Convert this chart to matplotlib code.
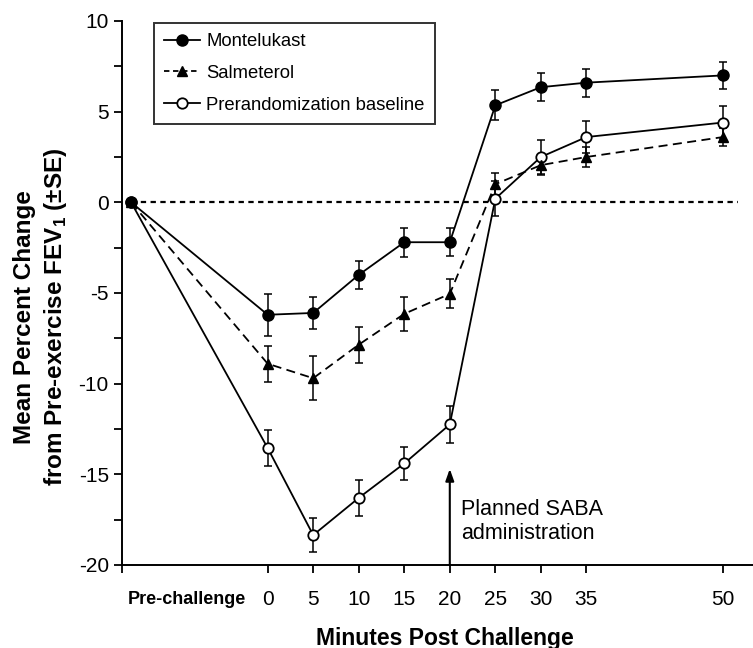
import matplotlib
matplotlib.use("Agg")
import matplotlib.pyplot as plt
from matplotlib.ticker import MultipleLocator
from matplotlib.lines import Line2D

plt.rcParams['font.family'] = ['Liberation Sans', 'DejaVu Sans']
plt.rcParams['mathtext.fontset'] = 'custom'
plt.rcParams['mathtext.rm'] = 'Liberation Sans'
plt.rcParams['mathtext.bf'] = 'Liberation Sans:bold'
plt.rcParams['axes.unicode_minus'] = False

# ---- data ----
time_labels = ['Pre-challenge', '0', '5', '10', '15', '20', '25', '30', '35', '50']
time_pos = [-15, 0, 5, 10, 15, 20, 25, 30, 35, 50]   # "Pre-challenge" drawn at -15

montelukast = [0, -6.2, -6.1, -4.0, -2.2, -2.2, 5.35, 6.35, 6.6, 7.0]
montelukast_se = [0, 1.15, 0.9, 0.77, 0.8, 0.77, 0.83, 0.78, 0.77, 0.74]

salmeterol = [0, -8.9, -9.7, -7.85, -6.15, -5.05, 1.0, 2.05, 2.5, 3.6]
salmeterol_se = [0, 1.0, 1.2, 1.0, 0.92, 0.8, 0.6, 0.57, 0.55, 0.5]

baseline = [0, -13.55, -18.35, -16.3, -14.4, -12.25, 0.2, 2.5, 3.6, 4.4]
baseline_se = [0, 1.0, 0.95, 1.0, 0.9, 1.0, 0.95, 0.95, 0.9, 0.9]

series_names = ['Montelukast', 'Salmeterol', 'Prerandomization baseline']

# ---- figure ----
W, H = 753, 648
fig = plt.figure(figsize=(W / 100, H / 100), dpi=100)
ax = fig.add_axes([122 / W, 1 - 565 / H, (W - 122) / W, (565 - 21) / H])

ax.set_xlim(-16, 53.3)
ax.set_ylim(-20, 10)

lw = 1.3
# zero reference line
ax.plot([-15, 51.6], [0, 0], color='black', lw=1.6, linestyle=(0, (2.4, 2.0)), zorder=1)

ekw = dict(ecolor='black', elinewidth=1.1, capsize=3.2, capthick=1.1, linestyle='none', zorder=2)

# Prerandomization baseline
ax.errorbar(time_pos, baseline, yerr=baseline_se, fmt='none', **ekw)
ax.plot(time_pos, baseline, color='black', lw=lw, marker='o', markersize=7.5,
        markerfacecolor='white', markeredgecolor='black', markeredgewidth=1.3, zorder=3)
# Salmeterol
ax.errorbar(time_pos, salmeterol, yerr=salmeterol_se, fmt='none', **ekw)
ax.plot(time_pos, salmeterol, color='black', lw=lw, linestyle=(0, (5, 3)), marker='^',
        markersize=7.5, markerfacecolor='black', markeredgecolor='black', zorder=4)
# Montelukast
ax.errorbar(time_pos, montelukast, yerr=montelukast_se, fmt='none', **ekw)
ax.plot(time_pos, montelukast, color='black', lw=lw, marker='o', markersize=8,
        markerfacecolor='black', markeredgecolor='black', zorder=5)

# arrow for planned SABA
ax.annotate('', xy=(20, -14.7), xytext=(20, -20),
            arrowprops=dict(arrowstyle='-|>,head_length=0.7,head_width=0.25',
                            color='black', lw=1.5, shrinkA=0, shrinkB=0))
ax.text(21.2, -17.6, 'Planned SABA\nadministration', fontsize=15.5, ha='left', va='center',
        linespacing=1.22)

# axes styling
for s in ['top', 'right']:
    ax.spines[s].set_visible(False)
for s in ['left', 'bottom']:
    ax.spines[s].set_linewidth(1.4)

ax.yaxis.set_major_locator(MultipleLocator(5))
ax.yaxis.set_minor_locator(MultipleLocator(2.5))
ax.tick_params(axis='y', which='major', direction='out', length=6, width=1.3,
               labelsize=15, pad=3.5)
ax.tick_params(axis='y', which='minor', direction='out', length=6, width=1.3)

ax.set_xticks([-16] + time_pos[1:])
ax.set_xticklabels([''] + time_labels[1:])
ax.tick_params(axis='x', which='major', direction='out', length=6, width=1.3,
               labelsize=15, pad=12)

ax.annotate(time_labels[0], xy=(-8.9, 0), xycoords=('data', 'axes fraction'),
            xytext=(0, -18.5), textcoords='offset points', ha='center', va='top',
            fontsize=13, fontweight='bold')

fig.text(445 / W, 1 - 638 / H, 'Minutes Post Challenge', ha='center', va='center',
         fontsize=16.5, fontweight='bold')
fig.text(41 / W, 1 - 317 / H,
         'Mean Percent Change\nfrom Pre-exercise FEV$_\\mathbf{1}$ (±SE)',
         rotation=90, ha='center', va='center', fontsize=17.5, fontweight='bold',
         multialignment='center', linespacing=1.3)

# legend
handles = [
    Line2D([], [], color='black', lw=lw, marker='o', markersize=8,
           markerfacecolor='black'),
    Line2D([], [], color='black', lw=lw, linestyle=(0, (3, 2)), marker='^', markersize=7.5,
           markerfacecolor='black'),
    Line2D([], [], color='black', lw=lw, marker='o', markersize=7.5,
           markerfacecolor='white', markeredgewidth=1.3),
]
leg = ax.legend(handles, series_names, loc='upper left',
                bbox_to_anchor=(154 / W, 1 - 23 / H), bbox_transform=fig.transFigure,
                fontsize=13.3, frameon=True, fancybox=False, edgecolor='black',
                handlelength=1.95, handletextpad=0.33, labelspacing=0.8,
                borderpad=0.55, borderaxespad=0)
leg.get_frame().set_linewidth(1.4)

fig.savefig('out.png', dpi=100)
